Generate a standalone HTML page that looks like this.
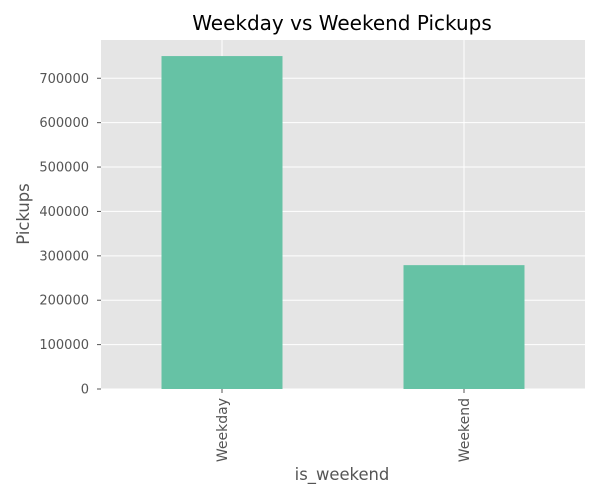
<!DOCTYPE html>
<html><head><meta charset="utf-8"><style>
body{margin:0;background:#fff;font-family:"DejaVu Sans","Liberation Sans",sans-serif}
</style></head><body>
<svg width="600" height="500" xmlns="http://www.w3.org/2000/svg" id="chart" font-family="DejaVu Sans, Liberation Sans, sans-serif">
<text x="342" y="30" text-anchor="middle" font-size="20" fill="#000">Weekday vs Weekend Pickups</text>
<rect x="101" y="40" width="484" height="349" fill="#e5e5e5"/>
<g id="grid"></g><g id="bars"></g><g id="axes"></g>
<text x="342" y="480" text-anchor="middle" font-size="16.4" fill="#555">is_weekend</text>
<text transform="translate(29,214) rotate(-90)" text-anchor="middle" font-size="16.4" fill="#555">Pickups</text>
</svg>
<script>
const categories=["Weekday","Weekend"];
const values=[750000,279000];
const yTicks=[0,100000,200000,300000,400000,500000,600000,700000];
const ns="http://www.w3.org/2000/svg";
const L=101,R=585,T=40,B=389,yMax=786200;
const y=v=>B-(v/yMax)*(B-T);
const step=(R-L)/categories.length;
const x=i=>L+step*(i+0.5);
function mk(t,a,p){const e=document.createElementNS(ns,t);for(const k in a)e.setAttribute(k,a[k]);p.appendChild(e);return e;}
const g=document.getElementById('grid'),b=document.getElementById('bars'),ax=document.getElementById('axes');
yTicks.forEach(v=>{
 const l=mk('line',{x1:L,x2:R,y1:y(v),y2:y(v),stroke:'#fff','stroke-width':1},g);
 
 
 const tk=mk('line',{x1:L-4,x2:L,y1:y(v),y2:y(v),stroke:'#555'},ax);
 
 
 const t=mk('text',{x:L-12,y:y(v)+4.5,'text-anchor':'end','font-size':13,fill:'#555'},ax);
 t.textContent=v;
 
 
});
categories.forEach((c,i)=>{
 const l=mk('line',{x1:x(i),x2:x(i),y1:T,y2:B,stroke:'#fff','stroke-width':1},g);
 
 
 const r=mk('rect',{x:x(i)-step*0.25,width:step*0.5,y:y(values[i]),height:B-y(values[i]),fill:'#66c2a5'},b);
 
 
 const tk=mk('line',{x1:x(i),x2:x(i),y1:B,y2:B+4,stroke:'#555'},ax);
 
 
 const t=mk('text',{transform:`translate(${x(i)+5},${B+9}) rotate(-90)`,'text-anchor':'end','font-size':14,fill:'#555'},ax);
 t.textContent=c;
 
 
});
</script>
</body></html>
